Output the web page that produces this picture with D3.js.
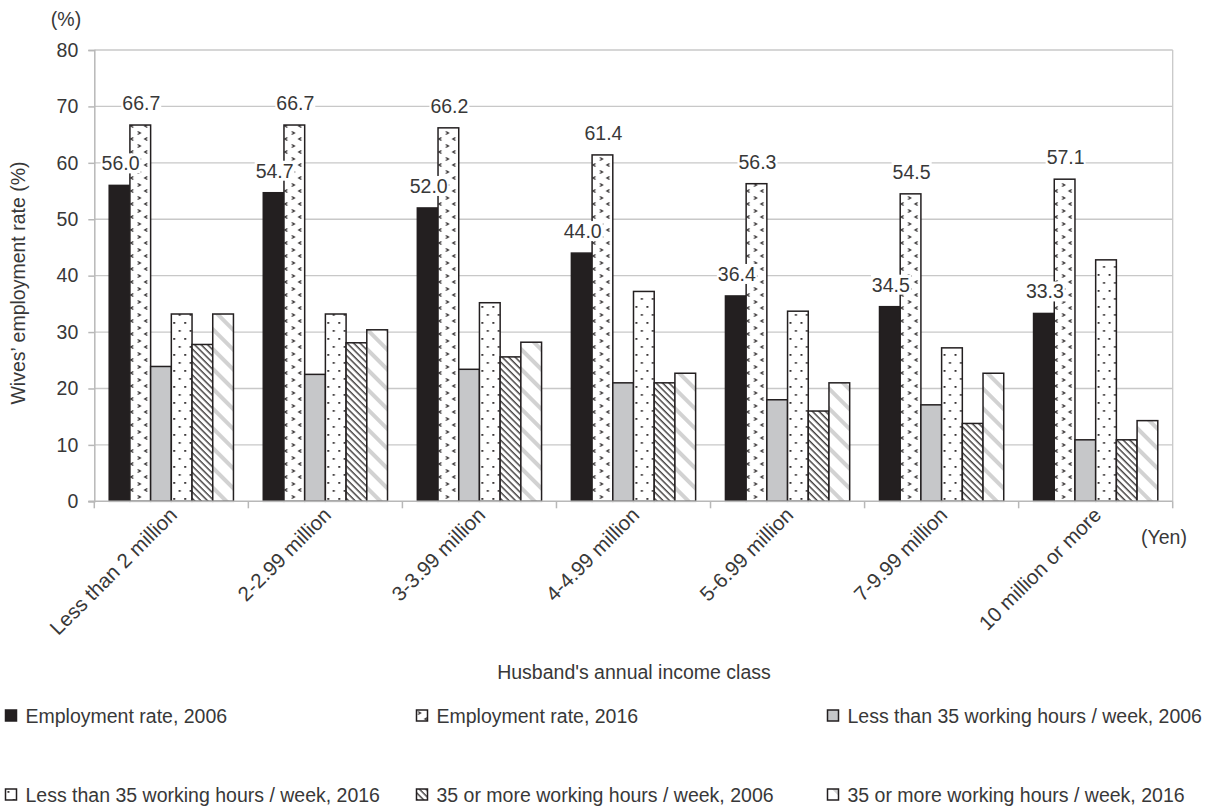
<!DOCTYPE html>
<html>
<head>
<meta charset="utf-8">
<script src="https://cdn.jsdelivr.net/npm/d3@7"></script>
<style>
  body { margin: 0; background: #fff; }
  text { font-family: "Liberation Sans", Arial, Helvetica, sans-serif; fill: #383838; }
</style>
</head>
<body>
<svg id="chart" width="1214" height="807"></svg>
<script>
// ---- data ----
const categories = ["Less than 2 million", "2-2.99 million", "3-3.99 million", "4-4.99 million",
                    "5-6.99 million", "7-9.99 million", "10 million or more"];
const seriesNames = ["Employment rate, 2006", "Employment rate, 2016",
                     "Less than 35 working hours / week, 2006", "Less than 35 working hours / week, 2016",
                     "35 or more working hours / week, 2006", "35 or more working hours / week, 2016"];
const emp2006  = [56.0, 54.7, 52.0, 44.0, 36.4, 34.5, 33.3];
const emp2016  = [66.7, 66.7, 66.2, 61.4, 56.3, 54.5, 57.1];
const lt35_2006 = [23.9, 22.5, 23.4, 21.0, 18.0, 17.1, 10.9];
const lt35_2016 = [33.2, 33.2, 35.2, 37.2, 33.7, 27.2, 42.8];
const ge35_2006 = [27.8, 28.1, 25.6, 21.0, 16.0, 13.8, 10.9];
const ge35_2016 = [33.2, 30.4, 28.2, 22.7, 21.0, 22.7, 14.3];
const yTicks = [0, 10, 20, 30, 40, 50, 60, 70, 80];
const labeledSeries = [0, 1];

const seriesValues = [emp2006, emp2016, lt35_2006, lt35_2016, ge35_2006, ge35_2016];
const fills = ["#231f20", "url(#pChev)", "#c6c7c9", "url(#pDots)", "url(#pHatch)", "url(#pLight)"];

const svg = d3.select("#chart");
const dark = "#231f20";

// ---- patterns ----
const defs = svg.append("defs");
{
  const p = defs.append("pattern").attr("id", "pChev").attr("patternUnits", "userSpaceOnUse")
    .attr("width", 14).attr("height", 13);
  p.append("rect").attr("width", 14).attr("height", 13).attr("fill", "#fff");
  p.append("path").attr("d", "M1.5,1.5 L4,3 L1.5,4.5 M11,7.5 L8.5,9 L11,10.5")
    .attr("fill", "none").attr("stroke", dark).attr("stroke-width", 1.2);
}
{
  const p = defs.append("pattern").attr("id", "pDots").attr("patternUnits", "userSpaceOnUse")
    .attr("width", 11).attr("height", 16);
  p.append("rect").attr("width", 11).attr("height", 16).attr("fill", "#fff");
  p.append("rect").attr("x", 2).attr("y", 2).attr("width", 1.8).attr("height", 1.8).attr("fill", dark);
  p.append("rect").attr("x", 7.5).attr("y", 10).attr("width", 1.8).attr("height", 1.8).attr("fill", dark);
}
{
  const p = defs.append("pattern").attr("id", "pHatch").attr("patternUnits", "userSpaceOnUse")
    .attr("width", 4.6).attr("height", 10).attr("patternTransform", "rotate(-45)");
  p.append("rect").attr("width", 4.6).attr("height", 10).attr("fill", "#fff");
  p.append("line").attr("x1", 2).attr("x2", 2).attr("y1", 0).attr("y2", 10)
    .attr("stroke", dark).attr("stroke-width", 1.25);
}
{
  const p = defs.append("pattern").attr("id", "pLight").attr("patternUnits", "userSpaceOnUse")
    .attr("width", 14).attr("height", 10).attr("patternTransform", "rotate(-45)");
  p.append("rect").attr("width", 14).attr("height", 10).attr("fill", "#fff");
  p.append("line").attr("x1", 5).attr("x2", 5).attr("y1", 0).attr("y2", 10)
    .attr("stroke", "#d2d2d2").attr("stroke-width", 4);
}

// ---- scales ----
const x = d3.scaleBand().domain(categories).range([94.3, 1172.7]).padding(0);
const xs = d3.scaleBand().domain(d3.range(seriesNames.length)).range([0, x.bandwidth()])
  .paddingInner(0).paddingOuter(0.72);
const y = d3.scaleLinear().domain([0, 80]).range([501.3, 50]);

const axisColor = "#b8b8b8";

// gridlines
svg.append("g").selectAll("line").data(yTicks.filter(d => d > 0)).join("line")
  .attr("x1", x.range()[0]).attr("x2", x.range()[1])
  .attr("y1", d => y(d)).attr("y2", d => y(d))
  .attr("stroke", "#c8c8c8").attr("stroke-width", 1.3);

// right border
svg.append("line").attr("x1", x.range()[1]).attr("x2", x.range()[1])
  .attr("y1", y(80)).attr("y2", y(0)).attr("stroke", "#c8c8c8").attr("stroke-width", 1.3);

// y axis
const yAxis = d3.axisLeft(y).tickValues(yTicks).tickSize(6).tickPadding(10);
const gy = svg.append("g").attr("transform", `translate(${x.range()[0]},0)`).call(yAxis);
gy.select(".domain").attr("stroke", axisColor).attr("stroke-width", 1.5);
gy.selectAll(".tick line").attr("stroke", axisColor).attr("stroke-width", 1.5);
gy.selectAll(".tick text").style("font-size", "19.5px").style("font-family", null).attr("fill", "#383838");

// bars
const groups = svg.append("g").selectAll("g").data(categories).join("g")
  .attr("transform", d => `translate(${x(d)},0)`);
groups.selectAll("rect").data((c, ci) => seriesValues.map((arr, si) => ({ si, v: arr[ci] })))
  .join("rect")
  .attr("x", d => xs(d.si))
  .attr("width", xs.bandwidth())
  .attr("y", d => y(d.v))
  .attr("height", d => y(0) - y(d.v))
  .attr("fill", d => fills[d.si])
  .attr("stroke", dark).attr("stroke-width", 1.5);

// x axis
const gx = svg.append("g");
gx.append("line").attr("x1", x.range()[0] - 6).attr("x2", x.range()[1])
  .attr("y1", y(0)).attr("y2", y(0)).attr("stroke", axisColor).attr("stroke-width", 1.5);
const boundaries = categories.map(c => x(c)).concat([x.range()[1]]);
gx.selectAll("line.tk").data(boundaries).join("line").attr("class", "tk")
  .attr("x1", d => d).attr("x2", d => d).attr("y1", y(0)).attr("y2", y(0) + 7)
  .attr("stroke", axisColor).attr("stroke-width", 1.5);
gx.selectAll("text").data(categories).join("text")
  .attr("transform", d => `translate(${x(d) + x.bandwidth() / 2 + 7},${y(0) + 15}) rotate(-45)`)
  .attr("text-anchor", "end")
  .style("font-size", "20.5px")
  .text(d => d);

// value labels (with white backgrounds)
const labelG = svg.append("g");
categories.forEach((c, ci) => {
  labeledSeries.forEach(si => {
    const v = seriesValues[si][ci];
    const cx = x(c) + xs(si) + xs.bandwidth() / 2 + 1;
    const by = y(v) - 15;
    const g = labelG.append("g");
    const t = g.append("text").attr("x", cx).attr("y", by).attr("text-anchor", "middle")
      .style("font-size", "19.5px").text(v.toFixed(1));
    const bb = t.node().getBBox();
    g.insert("rect", "text").attr("x", bb.x - 1).attr("y", bb.y + 1)
      .attr("width", bb.width + 2).attr("height", bb.height - 2).attr("fill", "#fff");
  });
});

// axis titles
svg.append("text").attr("x", 66).attr("y", 26).attr("text-anchor", "middle")
  .style("font-size", "19.5px").text("(%)");
svg.append("text").attr("transform", "translate(25,283) rotate(-90)").attr("text-anchor", "middle")
  .style("font-size", "19.5px").text("Wives’ employment rate (%)");
svg.append("text").attr("x", 1141).attr("y", 544).style("font-size", "19.5px").text("(Yen)");
svg.append("text").attr("x", 634).attr("y", 679).attr("text-anchor", "middle")
  .style("font-size", "19.5px").text("Husband's annual income class");

// legend
const legX = [5.5, 416.5, 827.5];
const legY = [710, 789];
const lg = svg.append("g").selectAll("g").data(seriesNames).join("g")
  .attr("transform", (d, i) => `translate(${legX[i % 3]},${legY[Math.floor(i / 3)]})`);
lg.append("rect").attr("width", 11).attr("height", 11)
  .attr("fill", (d, i) => fills[i]).attr("stroke", dark).attr("stroke-width", 1.5);
lg.append("text").attr("x", 20).attr("y", 13).style("font-size", "19.5px").text(d => d);
</script>
</body>
</html>
